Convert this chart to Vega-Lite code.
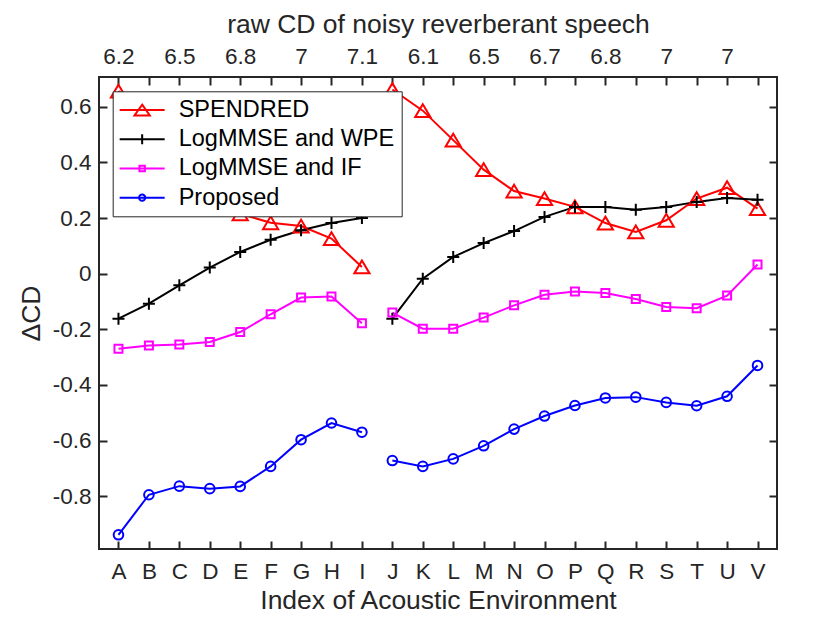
{
 "$schema": "https://vega.github.io/schema/vega-lite/v6.json",
 "width": 678, "height": 472,
 "autosize": {"type": "none"},
 "padding": {"left": 99, "top": 77, "right": 53, "bottom": 74},
 "background": "white",
 "config": {
  "font": "Liberation Sans",
  "view": {"stroke": "#262626", "strokeWidth": 2},
  "axis": {"domain": false, "grid": false, "tickColor": "#262626", "tickWidth": 2, "tickSize": 8, "offset": -8, "labelColor": "#262626", "labelFontSize": 22.5, "labelFont": "Liberation Sans", "titleFont": "Liberation Sans", "titleFontSize": 26.5, "titleFontWeight": "normal", "titleColor": "#262626"},
  "legend": {"orient": "none", "legendX": 13.7, "legendY": 14.3, "fillColor": "white", "strokeColor": "#262626", "padding": 7, "rowPadding": 4.2, "labelFontSize": 23.5, "labelColor": "#000000", "labelFont": "Liberation Sans", "labelLimit": 400, "labelOffset": 35.5, "symbolSize": 324, "symbolStrokeWidth": 2, "symbolFillColor": "transparent"}
 },
 "data": {"values": [
  {"env":"A","seg":"a","method":"SPENDRED","dcd":0.656},
  {"env":"B","seg":"a","method":"SPENDRED","dcd":0.58},
  {"env":"C","seg":"a","method":"SPENDRED","dcd":0.47},
  {"env":"D","seg":"a","method":"SPENDRED","dcd":0.34},
  {"env":"E","seg":"a","method":"SPENDRED","dcd":0.215},
  {"env":"F","seg":"a","method":"SPENDRED","dcd":0.183},
  {"env":"G","seg":"a","method":"SPENDRED","dcd":0.171},
  {"env":"H","seg":"a","method":"SPENDRED","dcd":0.126},
  {"env":"I","seg":"a","method":"SPENDRED","dcd":0.024},
  {"env":"J","seg":"b","method":"SPENDRED","dcd":0.662},
  {"env":"K","seg":"b","method":"SPENDRED","dcd":0.586},
  {"env":"L","seg":"b","method":"SPENDRED","dcd":0.48},
  {"env":"M","seg":"b","method":"SPENDRED","dcd":0.374},
  {"env":"N","seg":"b","method":"SPENDRED","dcd":0.297},
  {"env":"O","seg":"b","method":"SPENDRED","dcd":0.27},
  {"env":"P","seg":"b","method":"SPENDRED","dcd":0.24},
  {"env":"Q","seg":"b","method":"SPENDRED","dcd":0.182},
  {"env":"R","seg":"b","method":"SPENDRED","dcd":0.15},
  {"env":"S","seg":"b","method":"SPENDRED","dcd":0.192},
  {"env":"T","seg":"b","method":"SPENDRED","dcd":0.27},
  {"env":"U","seg":"b","method":"SPENDRED","dcd":0.309},
  {"env":"V","seg":"b","method":"SPENDRED","dcd":0.234},
  {"env":"A","seg":"a","method":"LogMMSE and WPE","dcd":-0.162},
  {"env":"B","seg":"a","method":"LogMMSE and WPE","dcd":-0.108},
  {"env":"C","seg":"a","method":"LogMMSE and WPE","dcd":-0.042},
  {"env":"D","seg":"a","method":"LogMMSE and WPE","dcd":0.022},
  {"env":"E","seg":"a","method":"LogMMSE and WPE","dcd":0.078},
  {"env":"F","seg":"a","method":"LogMMSE and WPE","dcd":0.122},
  {"env":"G","seg":"a","method":"LogMMSE and WPE","dcd":0.156},
  {"env":"H","seg":"a","method":"LogMMSE and WPE","dcd":0.182},
  {"env":"I","seg":"a","method":"LogMMSE and WPE","dcd":0.2},
  {"env":"J","seg":"b","method":"LogMMSE and WPE","dcd":-0.162},
  {"env":"K","seg":"b","method":"LogMMSE and WPE","dcd":-0.018},
  {"env":"L","seg":"b","method":"LogMMSE and WPE","dcd":0.06},
  {"env":"M","seg":"b","method":"LogMMSE and WPE","dcd":0.11},
  {"env":"N","seg":"b","method":"LogMMSE and WPE","dcd":0.153},
  {"env":"O","seg":"b","method":"LogMMSE and WPE","dcd":0.204},
  {"env":"P","seg":"b","method":"LogMMSE and WPE","dcd":0.24},
  {"env":"Q","seg":"b","method":"LogMMSE and WPE","dcd":0.24},
  {"env":"R","seg":"b","method":"LogMMSE and WPE","dcd":0.23},
  {"env":"S","seg":"b","method":"LogMMSE and WPE","dcd":0.24},
  {"env":"T","seg":"b","method":"LogMMSE and WPE","dcd":0.258},
  {"env":"U","seg":"b","method":"LogMMSE and WPE","dcd":0.272},
  {"env":"V","seg":"b","method":"LogMMSE and WPE","dcd":0.266},
  {"env":"A","seg":"a","method":"LogMMSE and IF","dcd":-0.27},
  {"env":"B","seg":"a","method":"LogMMSE and IF","dcd":-0.258},
  {"env":"C","seg":"a","method":"LogMMSE and IF","dcd":-0.255},
  {"env":"D","seg":"a","method":"LogMMSE and IF","dcd":-0.246},
  {"env":"E","seg":"a","method":"LogMMSE and IF","dcd":-0.21},
  {"env":"F","seg":"a","method":"LogMMSE and IF","dcd":-0.146},
  {"env":"G","seg":"a","method":"LogMMSE and IF","dcd":-0.086},
  {"env":"H","seg":"a","method":"LogMMSE and IF","dcd":-0.082},
  {"env":"I","seg":"a","method":"LogMMSE and IF","dcd":-0.178},
  {"env":"J","seg":"b","method":"LogMMSE and IF","dcd":-0.14},
  {"env":"K","seg":"b","method":"LogMMSE and IF","dcd":-0.198},
  {"env":"L","seg":"b","method":"LogMMSE and IF","dcd":-0.198},
  {"env":"M","seg":"b","method":"LogMMSE and IF","dcd":-0.158},
  {"env":"N","seg":"b","method":"LogMMSE and IF","dcd":-0.114},
  {"env":"O","seg":"b","method":"LogMMSE and IF","dcd":-0.076},
  {"env":"P","seg":"b","method":"LogMMSE and IF","dcd":-0.064},
  {"env":"Q","seg":"b","method":"LogMMSE and IF","dcd":-0.07},
  {"env":"R","seg":"b","method":"LogMMSE and IF","dcd":-0.091},
  {"env":"S","seg":"b","method":"LogMMSE and IF","dcd":-0.12},
  {"env":"T","seg":"b","method":"LogMMSE and IF","dcd":-0.124},
  {"env":"U","seg":"b","method":"LogMMSE and IF","dcd":-0.079},
  {"env":"V","seg":"b","method":"LogMMSE and IF","dcd":0.033},
  {"env":"A","seg":"a","method":"Proposed","dcd":-0.939},
  {"env":"B","seg":"a","method":"Proposed","dcd":-0.795},
  {"env":"C","seg":"a","method":"Proposed","dcd":-0.764},
  {"env":"D","seg":"a","method":"Proposed","dcd":-0.773},
  {"env":"E","seg":"a","method":"Proposed","dcd":-0.765},
  {"env":"F","seg":"a","method":"Proposed","dcd":-0.693},
  {"env":"G","seg":"a","method":"Proposed","dcd":-0.597},
  {"env":"H","seg":"a","method":"Proposed","dcd":-0.537},
  {"env":"I","seg":"a","method":"Proposed","dcd":-0.57},
  {"env":"J","seg":"b","method":"Proposed","dcd":-0.672},
  {"env":"K","seg":"b","method":"Proposed","dcd":-0.693},
  {"env":"L","seg":"b","method":"Proposed","dcd":-0.666},
  {"env":"M","seg":"b","method":"Proposed","dcd":-0.619},
  {"env":"N","seg":"b","method":"Proposed","dcd":-0.559},
  {"env":"O","seg":"b","method":"Proposed","dcd":-0.512},
  {"env":"P","seg":"b","method":"Proposed","dcd":-0.474},
  {"env":"Q","seg":"b","method":"Proposed","dcd":-0.447},
  {"env":"R","seg":"b","method":"Proposed","dcd":-0.444},
  {"env":"S","seg":"b","method":"Proposed","dcd":-0.463},
  {"env":"T","seg":"b","method":"Proposed","dcd":-0.475},
  {"env":"U","seg":"b","method":"Proposed","dcd":-0.441},
  {"env":"V","seg":"b","method":"Proposed","dcd":-0.33}
 ]},
 "encoding": {
  "color": {"field": "method", "type": "nominal",
   "scale": {"domain": ["SPENDRED", "LogMMSE and WPE", "LogMMSE and IF", "Proposed"], "range": ["#ff0000", "#000000", "#ff00ff", "#0000ff"]},
   "legend": {"title": null}
  }
 },
 "layer": [
  {
   "mark": {"type": "line", "strokeWidth": 2},
   "encoding": {
    "x": {"field": "env", "type": "ordinal", "scale": {"type": "point", "padding": 0.64}, "axis": {"orient": "bottom", "title": "Index of Acoustic Environment", "labelAngle": 0, "labelPadding": 11, "titlePadding": 5}},
    "y": {"field": "dcd", "type": "quantitative", "scale": {"domain": [-0.99, 0.707], "nice": false, "zero": false}, "axis": {"orient": "left", "title": "ΔCD", "values": [-0.8, -0.6, -0.4, -0.2, 0, 0.2, 0.4, 0.6], "labelExpr": "datum.value < 0 ? '-' + format(-datum.value, '.1~f') : format(datum.value, '.1~f')", "labelPadding": 8, "titlePadding": 7}},
    "detail": {"field": "seg", "type": "nominal"}
   }
  },
  {
   "transform": [{"filter": "datum.method === 'SPENDRED'"}],
   "mark": {"type": "point", "filled": false, "strokeWidth": 2, "size": 256, "opacity": 1, "shape": "M0,-0.8L0.95,0.8L-0.95,0.8Z"},
   "encoding": {
    "x": {"field": "env", "type": "ordinal", "scale": {"type": "point", "padding": 0.64}, "axis": {"orient": "top", "title": "raw CD of noisy reverberant speech", "labelAngle": 0, "labelPadding": 9, "titlePadding": 7, "labelExpr": "datum.value == 'A' ? '6.2' : datum.value == 'C' ? '6.5' : datum.value == 'E' ? '6.8' : datum.value == 'G' ? '7' : datum.value == 'I' ? '7.1' : datum.value == 'K' ? '6.1' : datum.value == 'M' ? '6.5' : datum.value == 'O' ? '6.7' : datum.value == 'Q' ? '6.8' : datum.value == 'S' ? '7' : datum.value == 'U' ? '7' : ''"}},
    "y": {"field": "dcd", "type": "quantitative", "scale": {"domain": [-0.99, 0.707], "nice": false, "zero": false}, "axis": {"orient": "right", "title": null, "labels": false, "values": [-0.8, -0.6, -0.4, -0.2, 0, 0.2, 0.4, 0.6]}}
   }
  },
  {
   "transform": [{"filter": "datum.method === 'LogMMSE and WPE'"}],
   "mark": {"type": "point", "filled": false, "strokeWidth": 2, "size": 256, "opacity": 1, "shape": "M-0.75,0L0.75,0M0,-0.75L0,0.75"},
   "encoding": {
    "x": {"field": "env", "type": "ordinal", "scale": {"type": "point", "padding": 0.64}, "axis": null},
    "y": {"field": "dcd", "type": "quantitative", "scale": {"domain": [-0.99, 0.707], "nice": false, "zero": false}, "axis": null}
   }
  },
  {
   "transform": [{"filter": "datum.method === 'LogMMSE and IF'"}],
   "mark": {"type": "point", "filled": false, "strokeWidth": 2, "size": 256, "opacity": 1, "shape": "M-0.5,-0.5L0.5,-0.5L0.5,0.5L-0.5,0.5Z"},
   "encoding": {
    "x": {"field": "env", "type": "ordinal", "scale": {"type": "point", "padding": 0.64}, "axis": null},
    "y": {"field": "dcd", "type": "quantitative", "scale": {"domain": [-0.99, 0.707], "nice": false, "zero": false}, "axis": null}
   }
  },
  {
   "transform": [{"filter": "datum.method === 'Proposed'"}],
   "mark": {"type": "point", "filled": false, "strokeWidth": 2, "size": 256, "opacity": 1, "shape": "M-0.6,0A0.6,0.6,0,1,0,0.6,0A0.6,0.6,0,1,0,-0.6,0Z"},
   "encoding": {
    "x": {"field": "env", "type": "ordinal", "scale": {"type": "point", "padding": 0.64}, "axis": null},
    "y": {"field": "dcd", "type": "quantitative", "scale": {"domain": [-0.99, 0.707], "nice": false, "zero": false}, "axis": null}
   }
  },
  {
   "transform": [{"filter": "false"}],
   "mark": {"type": "point", "filled": false, "strokeWidth": 2, "size": 324, "opacity": 1},
   "encoding": {
    "shape": {"field": "method", "type": "nominal", "legend": {"title": null}, "scale": {"domain": ["SPENDRED", "LogMMSE and WPE", "LogMMSE and IF", "Proposed"], "range": ["M-1.31,0L3.69,0M1.19,-0.6L2.04,0.6L0.34,0.6Z", "M-1.31,0L3.69,0M0.64,0L1.74,0M1.19,-0.55L1.19,0.55", "M-1.31,0L3.69,0M0.89,-0.3L1.49,-0.3L1.49,0.3L0.89,0.3Z", "M-1.31,0L3.69,0M0.84,0A0.35,0.35,0,1,0,1.54,0A0.35,0.35,0,1,0,0.84,0Z"]}}
   }
  }
 ],
 "resolve": {"axis": {"x": "independent", "y": "independent"}}
}
